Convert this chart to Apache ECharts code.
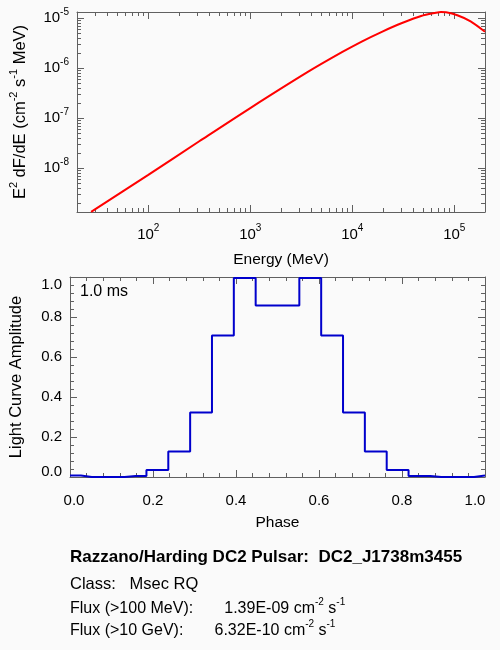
<!DOCTYPE html>
<html>
<head>
<meta charset="utf-8">
<script src="https://cdn.jsdelivr.net/npm/echarts@6/dist/echarts.min.js"></script>
<style>
html, body { margin: 0; padding: 0; background: #fafafa; }
#chart { width: 500px; height: 650px; }
</style>
</head>
<body>
<div id="chart"></div>
<script>
// spectrum: energy (MeV) vs E^2 dF/dE
var energy = [27.5, 100, 316, 1000, 3700, 8000, 12500, 19500, 30300, 47300, 66000, 74000, 83000, 107000, 144500, 200000];
var e2dnde = [1.34e-9, 7.41e-9, 3.47e-8, 1.603e-7, 8.55e-7, 2.123e-6, 3.467e-6, 5.37e-6, 7.94e-6, 1.112e-5,
              1.291e-5, 1.335e-5, 1.318e-5, 1.148e-5, 8.71e-6, 5.37e-6];

// light curve, 19 bins (histogram style)
var phase = [0, 0.0526, 0.1053, 0.1579, 0.2105, 0.2632, 0.3158, 0.3684, 0.4211, 0.4737,
             0.5263, 0.5789, 0.6316, 0.6842, 0.7368, 0.7895, 0.8421, 0.8947, 0.9474, 1.0];
var amplitude = [0.008, 0, 0, 0.005, 0.035, 0.128, 0.323, 0.708, 0.995, 0.857,
                 0.857, 0.995, 0.708, 0.323, 0.128, 0.035, 0.005, 0, 0, 0.008];

var infoLines = [
    'Razzano/Harding DC2 Pulsar:  DC2_J1738m3455',
    'Class:   Msec RQ',
    'Flux (>100 MeV):       1.39E-09 cm{sup|-2} s{sup|-1}',
    'Flux (>10 GeV):       6.32E-10 cm{sup|-2} s{sup|-1}'
];

var FONT = 'Liberation Sans, Arial, sans-serif';
var FRAME = '#606060';

function supStyle(size) {
    return {
        n: { fontSize: size, lineHeight: size, verticalAlign: 'bottom', color: '#000', fontFamily: FONT },
        sup: { fontSize: 10, lineHeight: 10, padding: [0, 0, Math.round(size * 0.6), 0], verticalAlign: 'bottom', color: '#000', fontFamily: FONT }
    };
}

function pow10Label(v) {
    var e = Math.round(Math.log(v) / Math.LN10);
    return '{n|10}{sup|' + e + '}';
}

// base axis (frame + inward ticks)
function frameAxis(extra) {
    var a = {
        axisLine: { show: true, onZero: false, lineStyle: { color: FRAME, width: 1 } },
        axisTick: { show: true, inside: true, length: 7, lineStyle: { color: FRAME } },
        minorTick: { show: true, length: 4, lineStyle: { color: FRAME } },
        splitLine: { show: false },
        axisLabel: { show: false }
    };
    for (var k in extra) a[k] = extra[k];
    return a;
}

var logMinor = { show: true, splitNumber: 9, length: 4, lineStyle: { color: FRAME } };

var chart = echarts.init(document.getElementById('chart'));

var option = {
    backgroundColor: '#fafafa',
    animation: false,
    grid: [
        { left: 70, top: 12, width: 415, height: 200 },
        { left: 70, top: 277, width: 415, height: 200 }
    ],
    xAxis: [
        frameAxis({
            type: 'log', gridIndex: 0, min: 20, max: 200000, position: 'bottom',
            minorTick: logMinor,
            axisLabel: { show: true, margin: 15, formatter: pow10Label, rich: supStyle(15),
                         showMinLabel: false, showMaxLabel: false },
            name: 'Energy (MeV)', nameLocation: 'middle', nameGap: 40,
            nameTextStyle: { fontSize: 15.5, color: '#000', fontFamily: FONT }
        }),
        frameAxis({
            type: 'log', gridIndex: 0, min: 20, max: 200000, position: 'top',
            minorTick: logMinor
        }),
        frameAxis({
            type: 'value', gridIndex: 1, min: 0, max: 1, interval: 0.2, position: 'bottom',
            axisLabel: {
                show: true, margin: 16, fontSize: 15, color: '#000', fontFamily: FONT,
                formatter: function (v) {
                    if (v === 0) return '{l|0.0}';
                    if (v === 1) return '{r|1.0}';
                    return v.toFixed(1);
                },
                rich: {
                    l: { fontSize: 15, fontFamily: FONT, color: '#000', padding: [0, 0, 0, 8] },
                    r: { fontSize: 15, fontFamily: FONT, color: '#000', padding: [0, 20, 0, 0] }
                }
            },
            name: 'Phase', nameLocation: 'middle', nameGap: 38,
            nameTextStyle: { fontSize: 15.5, color: '#000', fontFamily: FONT }
        }),
        frameAxis({
            type: 'value', gridIndex: 1, min: 0, max: 1, interval: 0.2, position: 'top'
        })
    ],
    yAxis: [
        frameAxis({
            type: 'log', gridIndex: 0, min: 1.336e-9, max: 1.336e-5, position: 'left',
            minorTick: logMinor,
            axisLabel: { show: true, margin: 8, formatter: pow10Label, rich: supStyle(15),
                         showMinLabel: false, showMaxLabel: false },
            name: 'E{sup|2} dF/dE (cm{sup|-2} s{sup|-1} MeV)', nameLocation: 'middle', nameGap: 48,
            nameRotate: 90,
            nameTextStyle: {
                fontSize: 16.5, color: '#000', fontFamily: FONT,
                rich: {
                    sup: { fontSize: 11, lineHeight: 11, padding: [0, 0, 10, 0], verticalAlign: 'bottom', color: '#000', fontFamily: FONT }
                }
            }
        }),
        frameAxis({
            type: 'log', gridIndex: 0, min: 1.336e-9, max: 1.336e-5, position: 'right',
            minorTick: logMinor
        }),
        frameAxis({
            type: 'value', gridIndex: 1, min: 0, max: 1, interval: 0.2, position: 'left',
            axisLabel: {
                show: true, margin: 8, fontSize: 15, color: '#000', fontFamily: FONT,
                formatter: function (v) {
                    if (v === 0) return '{b|0.0}';
                    if (v === 1) return '{t|1.0}';
                    return v.toFixed(1);
                },
                rich: {
                    t: { fontSize: 15, fontFamily: FONT, color: '#000', padding: [16, 0, 0, 0] },
                    b: { fontSize: 15, fontFamily: FONT, color: '#000', padding: [0, 0, 10, 0] }
                }
            },
            name: 'Light Curve Amplitude', nameLocation: 'middle', nameGap: 45,
            nameTextStyle: { fontSize: 16.5, color: '#000', fontFamily: FONT }
        }),
        frameAxis({
            type: 'value', gridIndex: 1, min: 0, max: 1, interval: 0.2, position: 'right'
        })
    ],
    series: [
        {
            type: 'line', xAxisIndex: 0, yAxisIndex: 0,
            data: energy.map(function (e, i) { return [e, e2dnde[i]]; }),
            smooth: 0.3, showSymbol: false, clip: true,
            lineStyle: { color: '#ff0000', width: 2 }
        },
        {
            type: 'line', xAxisIndex: 2, yAxisIndex: 2,
            data: phase.map(function (p, i) { return [p, amplitude[i]]; }),
            step: 'middle', showSymbol: false,
            lineStyle: { color: '#0000cc', width: 2 }
        }
    ],
    graphic: [
        { type: 'text', left: 80, top: 284, style: { text: '1.0 ms', fontSize: 16, fontFamily: FONT, fill: '#000' } },
        { type: 'text', left: 70, top: 549, style: { text: infoLines[0], fontSize: 17, fontWeight: 'bold', fontFamily: FONT, fill: '#000' } },
        { type: 'text', left: 70, top: 576, style: { text: infoLines[1], fontSize: 16.5, fontFamily: FONT, fill: '#000' } }
    ]
};

// flux lines with superscripts
[597, 619].forEach(function (top, i) {
    option.graphic.push({
        type: 'text', left: 70, top: top,
        style: {
            text: '{n|' + infoLines[2 + i].replace(/\{sup\|(-\d)\}/g, '}{sup|$1}{n|') + '}',
            rich: supStyle(16)
        }
    });
});

chart.setOption(option);
</script>
</body>
</html>
